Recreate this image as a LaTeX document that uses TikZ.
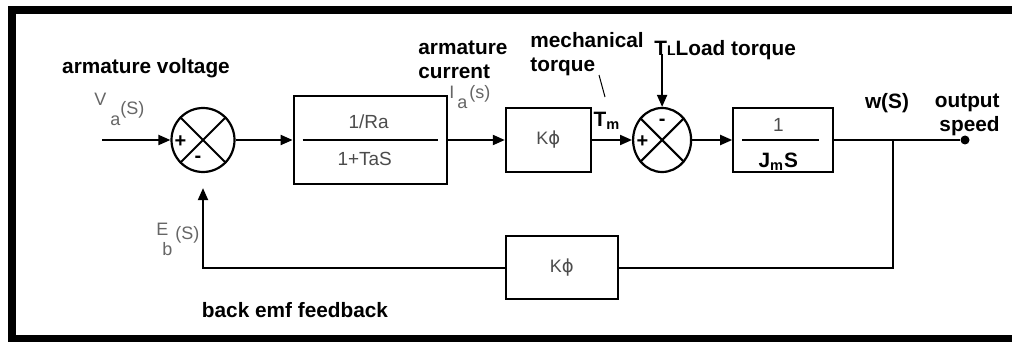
\documentclass[tikz,border=0pt]{standalone}
\usepackage{fontspec}
\setmainfont{Liberation Sans}
\newfontfamily\dvsans{DejaVu Sans}
\usetikzlibrary{positioning,arrows.meta,shapes.geometric}

\newcommand{\sigl}[5]{#1\raisebox{#4}{#2}\raisebox{#5}{#3}}
\newcommand{\kphi}{K{\dvsans ϕ}}

\begin{document}
\begin{tikzpicture}[x=0.5pt, y=-0.5pt,
  lbl/.style={font=\fontsize{10.4}{12}\selectfont\bfseries, inner sep=0pt, align=left},
  sgl/.style={font=\fontsize{9}{10}\selectfont, text=black!60, inner sep=0pt},
  txt/.style={font=\fontsize{9.5}{11}\selectfont, text=black!70, inner sep=0pt},
  blk/.style={draw, line width=1.1pt, minimum width=#1, minimum height=32pt,
              inner sep=0pt, font=\fontsize{9}{10}\selectfont, text=black!70},
  sum/.style={draw, ellipse, line width=1.1pt, minimum width=31.5pt,
              minimum height=32pt, inner sep=0pt},
  sgn/.style={font=\fontsize{10}{10}\selectfont\bfseries, inner sep=0pt},
  arr/.style={-{Triangle[length=6pt,width=5pt]}, line width=1pt},
  ln/.style={line width=1pt}]

\useasboundingbox (0,0) rectangle (1012,342);
\fill[white] (0,0) rectangle (1012,342);
\clip (0,0) rectangle (1012,342);
\draw[line width=4pt] (12,10) rectangle (1040,339);

\node[sum] (s1) at (203,140) {};
\node[blk=76.5pt, minimum height=44pt, right=28.5pt of s1] (b1) {};
\node[blk=42.5pt, right=28.5pt of b1] (kf) {\kphi};
\node[sum, minimum width=29pt, right=20pt of kf] (s2) {};
\node[blk=50pt, right=20pt of s2] (bj) {};
\node[blk=56pt, minimum height=31.5pt, below=31pt of kf, xshift=6.75pt] (kb) {\kphi};

\coordinate (in) at (102,140);
\coordinate (br) at (893,140);
\coordinate[above=26.5pt of s2.north] (ld);
\node[circle, fill, inner sep=0pt, minimum size=4.5pt] (out) at (965,140) {};

\draw[ln] (s1.45) -- (s1.225) (s1.135) -- (s1.315);
\draw[ln] (s2.45) -- (s2.225) (s2.135) -- (s2.315);
\node[sgn] (p1) at ([xshift=5pt, yshift=-1pt]s1.west) {+};
\node[sgn] (m1) at ([xshift=-2.5pt, yshift=-9.5pt]s1.center) {-};
\node[sgn] (p2) at ([xshift=5.25pt, yshift=-1pt]s2.west) {+};
\node[sgn] (m2) at ([yshift=9pt]s2.center) {-};

\draw[line width=1.3pt] ([xshift=5pt]b1.west) -- ([xshift=-5pt]b1.east);
\node[txt] (ra) at ([xshift=-0.75pt, yshift=9pt]b1.center) {1/Ra};
\node[txt] (ta) at ([xshift=-2.75pt, yshift=-9.5pt]b1.center) {1+TaS};
\draw[line width=1.3pt] ([xshift=5pt]bj.west) -- ([xshift=-7.5pt]bj.east);
\node[txt] (one) at ([xshift=-2.5pt, yshift=7.5pt]bj.center) {1};
\node[lbl] (jm) at ([xshift=-2.5pt, yshift=-11pt]bj.center) {J\textsubscript{m}S};

\foreach \a/\b in {in/s1, s1/b1, b1/kf, kf/s2, s2/bj, ld/s2} \draw[arr] (\a) -- (\b);
\draw[ln] (bj) -- (out);
\draw[ln] (br) |- (kb);
\draw[arr, shorten >=7.5pt] (kb) -| (s1);

\node[lbl] (av) at (146,68) {armature voltage};
\node[sgl, anchor=base west] (va) at (94,106) {\sigl{V\hspace{2pt}}{a}{(S)}{-9.6pt}{-4.1pt}};
\node[lbl, anchor=west] (ac) at (418,60) {armature\\current};
\node[sgl, anchor=base west] (ia) at (449,99) {\sigl{I\hspace{1.5pt}}{a}{\hspace{1pt}(s)}{-4.8pt}{0pt}};
\node[lbl, anchor=west] (mt) at (530,54) {mechanical\\torque};
\coordinate (mt1) at (599,75);
\coordinate (mt2) at (605,97);
\draw[line width=0.5pt] (mt1) -- (mt2);
\node[lbl] (tm) at (607,121) {T\textsubscript{m}};
\node[lbl, anchor=west] (lt) at (654,50) {T{\fontsize{7}{7}\selectfont L}Load torque};
\node[lbl] (ws) at (887,103) {w(S)};
\node[lbl, align=right, anchor=east] (os) at (1000,115) {output\\speed};
\node[sgl, anchor=base west] (eb) at (156,235) {\sigl{E\hspace{-3pt}}{b}{\hspace{1.5pt}(S)}{-10pt}{-2.1pt}};
\node[lbl] (bf) at (295,310) {back emf feedback};
\end{tikzpicture}
\end{document}
